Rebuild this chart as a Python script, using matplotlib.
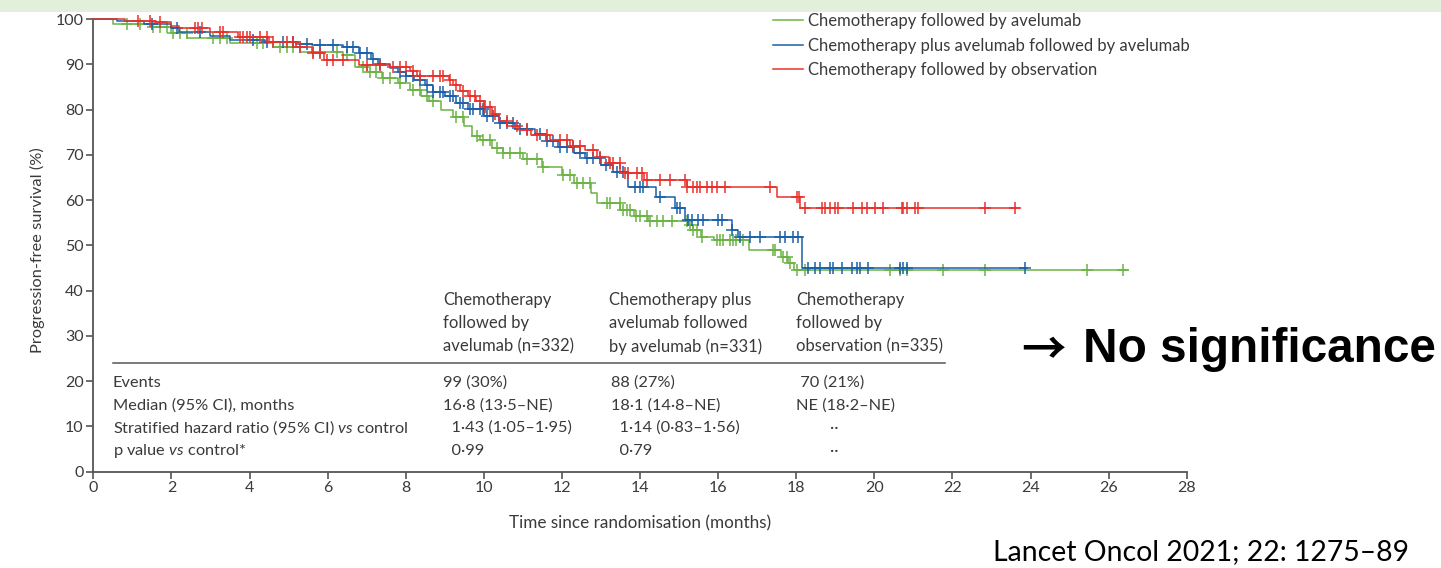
import numpy as np
import matplotlib
matplotlib.use("Agg")
import matplotlib.pyplot as plt
from matplotlib.patches import Rectangle

# ---------------- data ----------------
arm_labels = ["Chemotherapy followed by avelumab",
              "Chemotherapy plus avelumab followed by avelumab",
              "Chemotherapy followed by observation"]

# Chemotherapy followed by avelumab (green)
t_green = [0, 0.5, 1.5, 2.0, 2.4, 3.5, 4.6, 5.3, 6.4, 6.7, 7.0, 7.4, 7.8, 8.1, 8.4, 8.6, 8.9,
           9.2, 9.5, 9.7, 9.9, 10.2, 10.5, 11.0, 11.5, 12.0, 12.3, 12.75, 12.9, 13.5, 13.85,
           14.2, 15.25, 15.35, 15.55, 15.9, 16.8, 17.6, 17.8, 17.95, 26.5]
s_green = [100, 99.0, 98.3, 96.9, 95.8, 94.7, 93.8, 92.8, 92.1, 89.5, 88.3, 87.0, 85.8, 84.3,
           83.0, 82.0, 80.0, 78.4, 76.5, 74.2, 73.2, 71.5, 70.4, 69.0, 67.4, 65.5, 63.8, 61.5,
           59.4, 57.8, 56.4, 55.3, 54.5, 53.4, 51.9, 51.2, 49.0, 47.5, 46.1, 44.6, 44.6]
c_green = [0.86, 1.2, 1.54, 1.71, 1.88, 2.05, 2.22, 2.39, 3.07, 3.24, 3.42, 4.18, 4.35, 4.78,
           4.95, 5.12, 5.29, 5.63, 5.8, 6.23, 6.49, 6.91, 7.08, 7.25, 7.42, 7.6, 7.85, 8.19,
           8.37, 8.54, 8.71, 9.3, 9.47, 9.82, 9.99, 10.16, 10.33, 10.5, 10.67, 10.93, 11.1,
           11.36, 11.52, 12.04, 12.21, 12.38, 12.55, 12.72, 13.15, 13.23, 13.49, 13.57, 13.66,
           13.74, 13.91, 14.0, 14.17, 14.26, 14.43, 14.6, 14.81, 15.2, 15.28, 15.37, 15.45,
           15.58, 15.96, 16.05, 16.13, 16.3, 16.39, 16.47, 16.64, 17.41, 17.46, 17.67, 17.76,
           17.84, 18.01, 18.22, 20.4, 20.66, 20.83, 21.77, 22.83, 25.44, 26.38]

# Chemotherapy plus avelumab followed by avelumab (blue)
t_blue = [0, 0.6, 1.3, 2.0, 2.2, 3.0, 3.5, 4.4, 5.2, 5.6, 6.4, 6.8, 7.1, 7.3, 7.6, 7.8, 8.0,
          8.2, 8.5, 8.7, 9.0, 9.3, 9.6, 10.0, 10.4, 10.8, 11.3, 11.6, 11.9, 12.3, 12.6, 13.0,
          13.3, 13.7, 14.4, 14.9, 15.15, 16.35, 16.5, 18.15, 23.9]
s_blue = [100, 99.6, 99.0, 98.0, 97.2, 96.2, 95.4, 95.0, 94.6, 94.3, 93.9, 92.5, 91.3, 90.2,
          89.2, 88.4, 87.5, 86.6, 85.5, 84.0, 83.0, 81.5, 80.2, 78.5, 77.0, 75.8, 74.7, 73.0,
          71.7, 70.5, 69.3, 67.8, 66.3, 63.0, 60.8, 58.2, 55.6, 53.4, 51.8, 45.0, 45.0]
c_blue = [1.5, 2.14, 2.73, 4.1, 4.44, 4.87, 5.12, 5.46, 5.8, 6.15, 6.49, 6.66, 6.83, 7.0, 7.17,
          7.34, 7.85, 8.02, 8.19, 8.37, 8.54, 8.71, 8.88, 8.96, 9.13, 9.22, 9.39, 9.47, 9.65,
          9.73, 9.9, 9.99, 10.07, 10.24, 10.41, 10.59, 10.76, 10.93, 11.1, 11.44, 11.61, 11.78,
          11.95, 12.12, 12.29, 12.46, 12.63, 12.8, 12.97, 13.14, 13.4, 13.57, 13.87, 14.0,
          14.08, 14.51, 14.94, 15.03, 15.24, 15.32, 15.49, 15.62, 16.0, 16.09, 16.35, 16.56,
          16.82, 17.07, 17.58, 17.71, 17.93, 18.05, 18.31, 18.48, 18.61, 18.87, 18.95, 19.17,
          19.42, 19.55, 19.63, 19.85, 20.66, 20.74, 20.83, 23.86]

# Chemotherapy followed by observation (red)
t_red = [0, 0.8, 1.6, 2.0, 2.2, 3.0, 3.7, 4.5, 5.2, 5.6, 5.9, 6.8, 7.6, 8.1, 8.3, 9.1, 9.2,
         9.4, 9.6, 9.8, 10.0, 10.2, 10.4, 10.6, 10.9, 11.2, 11.7, 12.2, 12.6, 12.9, 13.2, 13.5,
         14.1, 15.2, 17.5, 18.1, 23.7]
s_red = [100, 99.7, 99.4, 98.6, 98.0, 97.2, 96.1, 95.0, 93.8, 92.5, 91.0, 89.9, 89.5, 88.5,
         87.5, 86.5, 85.5, 84.2, 83.0, 82.0, 80.5, 79.0, 77.6, 76.5, 75.5, 74.5, 73.2, 72.0,
         71.0, 69.5, 68.3, 66.0, 64.5, 63.0, 60.6, 58.2, 58.2]
c_red = [1.15, 1.45, 1.71, 2.6, 2.69, 2.78, 3.24, 3.33, 3.76, 3.84, 3.93, 4.0, 4.27, 4.44,
         4.61, 4.95, 5.12, 5.29, 5.63, 5.8, 5.98, 6.15, 6.4, 7.0, 7.34, 7.68, 7.85, 8.02, 8.19,
         8.37, 8.7, 8.88, 8.96, 9.13, 9.3, 9.47, 9.65, 9.78, 9.9, 10.03, 10.16, 10.29, 10.59,
         10.84, 11.1, 11.36, 11.61, 11.95, 12.12, 12.29, 12.46, 12.8, 12.98, 13.23, 13.32,
         13.49, 13.62, 13.7, 13.92, 14.04, 14.17, 14.51, 14.77, 15.15, 15.2, 15.37, 15.45,
         15.54, 15.71, 15.84, 15.97, 16.18, 17.33, 18.01, 18.06, 18.22, 18.65, 18.74, 18.87,
         19.0, 19.08, 19.46, 19.68, 19.81, 20.02, 20.23, 20.7, 20.74, 20.83, 21.04, 21.13,
         22.83, 23.6]

colors = ["#6ab344", "#1a5fa8", "#e8302a"]

x_ticks = list(range(0, 29, 2))
y_ticks = list(range(0, 101, 10))

table_headers = [["Chemotherapy", "followed by", "avelumab (n=332)"],
                 ["Chemotherapy plus", "avelumab followed", "by avelumab (n=331)"],
                 ["Chemotherapy", "followed by", "observation (n=335)"]]
row_labels = ["Events", "Median (95% CI), months",
              "Stratified hazard ratio (95% CI) $\\mathit{vs}$ control",
              "p value $\\mathit{vs}$ control*"]
col_values = [["99 (30%)", "16·8 (13·5–NE)", "  1·43 (1·05–1·95)", "  0·99"],
              ["88 (27%)", "18·1 (14·8–NE)", "  1·14 (0·83–1·56)", "  0·79"],
              [" 70 (21%)", "NE (18·2–NE)", "        ··", "        ··"]]

# ---------------- style ----------------
plt.rcParams['font.family'] = ['Lato', 'DejaVu Sans']
plt.rcParams['mathtext.fontset'] = 'custom'
plt.rcParams['mathtext.rm'] = 'Lato'
plt.rcParams['mathtext.it'] = 'Lato:italic'
txt_col = "#3a3a3a"
ax_col = "#555555"

W, H = 1441, 568
fig = plt.figure(figsize=(W / 100, H / 100), dpi=100)
fig.patches.append(Rectangle((0, 1 - 12 / H), 1, 12 / H, transform=fig.transFigure,
                             facecolor="#e2efda", edgecolor="none", zorder=0))

ax = fig.add_axes([93.3 / W, 1 - 471.7 / H, (1186.7 - 93.3) / W, (471.7 - 19.2) / H])
ax.set_xlim(0, 28)
ax.set_ylim(0, 100)
for s in ["top", "right"]:
    ax.spines[s].set_visible(False)
for s in ["left", "bottom"]:
    ax.spines[s].set_color(ax_col)
    ax.spines[s].set_linewidth(1.3)
ax.set_xticks(x_ticks)
ax.set_yticks(y_ticks)
ax.tick_params(axis="both", colors=ax_col, labelcolor=txt_col, length=5, width=1.2,
               labelsize=11.5, pad=2)
ax.set_xlabel("Time since randomisation (months)", fontsize=12.3, color=txt_col, labelpad=14)
ax.set_ylabel("Progression-free survival (%)", fontsize=11.8, color=txt_col)
ax.yaxis.set_label_coords((45 - 93.3) / (1186.7 - 93.3), 0.49)

series = [(t_green, s_green, c_green), (t_blue, s_blue, c_blue), (t_red, s_red, c_red)]
order = [0, 2, 1]
handles = [None] * 3
for i in order:
    t, s, c = series[i]
    t = np.asarray(t); s = np.asarray(s); c = np.asarray(c)
    h, = ax.step(t, s, where="post", color=colors[i], lw=1.1, label=arm_labels[i],
                 zorder=3 + i, clip_on=False)
    idx = np.searchsorted(t, c, side="right") - 1
    ax.plot(c, s[idx], ls="none", marker="+", ms=9, mew=1.1, color=colors[i], zorder=3 + i,
            clip_on=False)
    handles[i] = h

fig.legend(handles, arm_labels, loc="upper left", bbox_to_anchor=(773 / W, 1 - 13 / H),
           frameon=False, fontsize=12.0, handlelength=1.8, handletextpad=0.3,
           labelspacing=0.52, borderpad=0, borderaxespad=0, labelcolor=txt_col)

# ---------------- table ----------------
ax.plot([0.5, 21.8], [24.0, 24.0], color=ax_col, lw=1.1, clip_on=False)
head_x = [8.95, 13.2, 18.0]
head_y = [38.0, 32.9, 27.6]
for hx, lines in zip(head_x, table_headers):
    for hy, line in zip(head_y, lines):
        ax.text(hx, hy, line, fontsize=12, color=txt_col, va="center", ha="left")
row_y = [19.6, 14.7, 9.7, 4.6]
for ry, lab in zip(row_y, row_labels):
    ax.text(0.5, ry, lab, fontsize=11.8, color=txt_col, va="center", ha="left")
val_x = [8.95, 13.25, 18.0]
for vx, vals in zip(val_x, col_values):
    for ry, v in zip(row_y, vals):
        ax.text(vx, ry, v, fontsize=11.8, color=txt_col, va="center", ha="left")

# ---------------- slide annotations ----------------
fig.text(1021 / W, 1 - 351 / H, "→", fontsize=32, fontweight="bold",
         family=["Noto Sans CJK JP", "DejaVu Sans"], color="black", va="center", ha="left")
fig.text(1083 / W, 1 - 350 / H, "No significance", fontsize=34.4, fontweight="bold",
         family=["Liberation Sans", "DejaVu Sans"], color="black", va="center", ha="left")
fig.text(993 / W, 1 - 552 / H, "Lancet Oncol 2021; 22: 1275–89", fontsize=20.4,
         family=["Lato", "DejaVu Sans"], color="black", va="center", ha="left")

fig.savefig("out.png", dpi=100)
